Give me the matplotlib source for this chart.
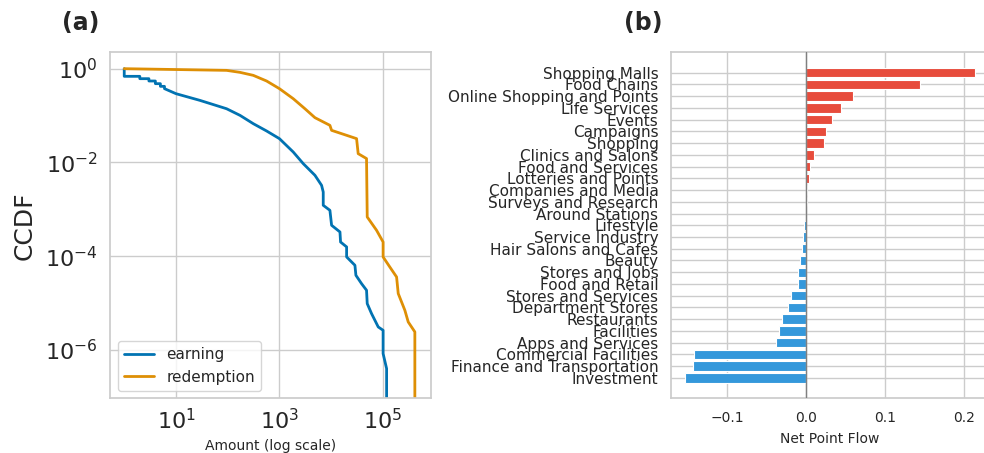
import numpy as np
import matplotlib
matplotlib.use("Agg")
import matplotlib.pyplot as plt
import seaborn as sns

# --- panel (a): CCDF of point amounts ---
earn_amount = [1, 1, 2, 2, 3, 3, 4, 4, 5, 5, 6, 6, 10, 29, 95, 173, 312, 565,
               1000, 1850, 2890, 4860, 6530, 7030, 7030, 9460, 10200, 14800,
               15200, 19900, 19900, 28800, 30100, 38700, 48300, 49800, 60400,
               81300, 101000, 101000, 118000, 118000]
earn_ccdf = [1.0, 0.687, 0.687, 0.612, 0.612, 0.546, 0.546, 0.479, 0.479, 0.420,
             0.420, 0.375, 0.293, 0.211, 0.140, 0.101, 0.0672, 0.0469, 0.0322,
             0.0167, 0.00942, 0.00532, 0.00325, 0.00234, 0.00122, 0.000953,
             0.000457, 0.000329, 0.000201, 0.000158, 9.65e-5, 6.41e-5, 3.92e-5,
             2.60e-5, 1.88e-5, 9.76e-6, 5.97e-6, 3.10e-6, 2.63e-6, 8.38e-7,
             4.01e-7, 1e-8]

red_amount = [1, 95, 173, 312, 565, 1000, 1850, 3110, 4860, 9460, 10200, 19900,
              31000, 33300, 48300, 49800, 75500, 101000, 101000, 136000, 184000,
              198000, 266000, 309000, 415000, 415000]
red_ccdf = [1.0, 0.921, 0.835, 0.721, 0.546, 0.375, 0.229, 0.140, 0.0902,
            0.0619, 0.0484, 0.0379, 0.0322, 0.0154, 0.0121, 0.000687, 0.000357,
            0.000201, 9.65e-5, 5.90e-5, 3.61e-5, 1.60e-5, 7.03e-6, 3.96e-6,
            2.43e-6, 1e-8]

# --- panel (b): net point flow per category ---
categories = ["Shopping Malls", "Food Chains", "Online Shopping and Points",
              "Life Services", "Events", "Campaigns", "Shopping",
              "Clinics and Salons", "Food and Services", "Lotteries and Points",
              "Companies and Media", "Surveys and Research", "Around Stations",
              "Lifestyle", "Service Industry", "Hair Salons and Cafes", "Beauty",
              "Stores and Jobs", "Food and Retail", "Stores and Services",
              "Department Stores", "Restaurants", "Facilities",
              "Apps and Services", "Commercial Facilities",
              "Finance and Transportation", "Investment"]
net_flow = [0.2134, 0.1437, 0.0592, 0.0437, 0.0328, 0.0248, 0.0231, 0.0097,
            0.0046, 0.0038, 0.0006, 0.0003, -0.0008, -0.0025, -0.0042, -0.0055,
            -0.0080, -0.0101, -0.0101, -0.0190, -0.0232, -0.0308, -0.0350,
            -0.0380, -0.1422, -0.1437, -0.1532]

sns.set_theme(style="whitegrid")

fig = plt.figure(figsize=(9.84, 4.53), dpi=100)
ax1 = fig.add_axes([0.1118, 0.1208, 0.3262, 0.7638])
ax2 = fig.add_axes([0.6819, 0.1208, 0.3232, 0.7638])

# (a)
ax1.plot(earn_amount, earn_ccdf, color="#0173b2", lw=2, label="earning")
ax1.plot(red_amount, red_ccdf, color="#de8f05", lw=2, label="redemption")
ax1.set_xscale("log")
ax1.set_yscale("log")
ax1.set_xlim(10 ** -0.275, 10 ** 5.93)
ax1.set_ylim(10 ** -7.03, 10 ** 0.35)
ax1.set_xticks([10, 1e3, 1e5])
ax1.set_yticks([1, 1e-2, 1e-4, 1e-6])
ax1.minorticks_off()
ax1.tick_params(axis="both", labelsize=16, length=0)
ax1.tick_params(axis="y", pad=9)
ax1.tick_params(axis="x", pad=7)
ax1.set_xlabel("Amount (log scale)", fontsize=10, labelpad=4)
ax1.set_ylabel("CCDF", fontsize=18, labelpad=6)
ax1.legend(loc="lower left", fontsize=11)
ax1.text(-0.09, 1.065, "(a)", transform=ax1.transAxes, ha="center",
         va="baseline", fontsize=17, fontweight="bold")

# (b)
colors = ["#e74c3c" if v > 0 else "#3498db" for v in net_flow]
ypos = np.arange(len(categories))
ax2.barh(ypos, net_flow, height=0.8, color=colors, edgecolor="white",
         linewidth=0.8, zorder=2)
ax2.axvline(0, color="gray", lw=1, zorder=3)
ax2.set_yticks(ypos)
ax2.set_yticklabels(categories)
ax2.invert_yaxis()
ax2.set_xticks([-0.1, 0.0, 0.1, 0.2])
ax2.tick_params(axis="y", labelsize=11, length=0, pad=9)
ax2.tick_params(axis="x", labelsize=10, length=0, pad=9)
ax2.set_xlabel("Net Point Flow", fontsize=10, labelpad=5)
ax2.text(-0.086, 1.065, "(b)", transform=ax2.transAxes, ha="center",
         va="baseline", fontsize=17, fontweight="bold")

fig.savefig("out.png", dpi=100)
